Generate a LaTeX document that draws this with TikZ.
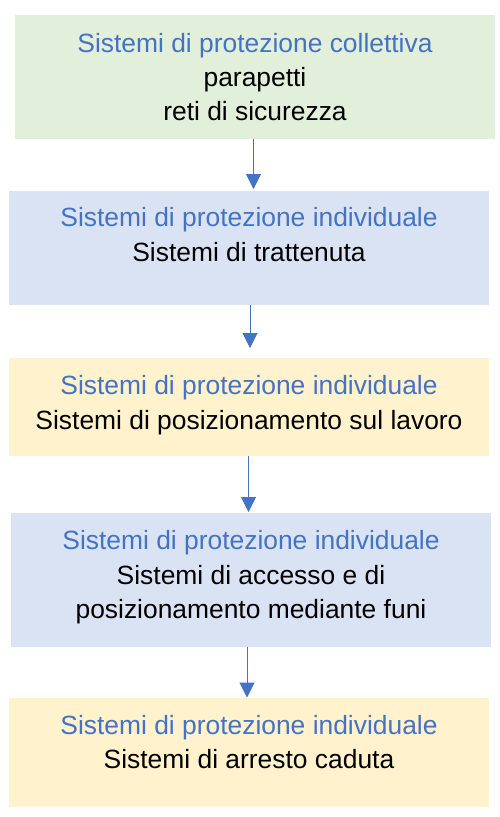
\documentclass[tikz,border=0pt]{standalone}
\usepackage{fontspec}
\setmainfont{Liberation Sans}
\usetikzlibrary{arrows.meta}
\definecolor{tblue}{HTML}{4472C4}
\definecolor{fgreen}{HTML}{E2EFDA}
\definecolor{fblue}{HTML}{DAE3F3}
\definecolor{fyellow}{HTML}{FFF2CC}
\begin{document}
\begin{tikzpicture}[x=1pt,y=-1pt,
  box/.style={draw=none, inner sep=0pt, outer sep=0pt, anchor=north west, minimum width=480pt},
  ttl/.style={anchor=base, inner sep=0pt, text=tblue, font=\fontsize{26.4}{34}\selectfont},
  txt/.style={anchor=base, inner sep=0pt, text=black, font=\fontsize{26.4}{34}\selectfont},
  arr/.style={draw=tblue, line width=1pt, -{Triangle[length=15pt,width=15pt]}}]
\path[use as bounding box, fill=white] (0,0) rectangle (499,817);
% boxes
\node[box, fill=fgreen, minimum height=124pt] (b1) at (15,15) {};
\node[box, fill=fblue, minimum height=114pt] (b2) at (9,191) {};
\node[box, fill=fyellow, minimum height=98pt] (b3) at (9,358) {};
\node[box, fill=fblue, minimum height=134pt] (b4) at (11,513) {};
\node[box, fill=fyellow, minimum height=109pt] (b5) at (9,698) {};
% texts
\node[ttl] (t1a) at (255,52) {Sistemi di protezione collettiva};
\node[txt] (t1b) at (255,86) {parapetti};
\node[txt] (t1c) at (255,120.5) {reti di sicurezza};
\node[ttl] (t2a) at (249,226.7) {Sistemi di protezione individuale};
\node[txt] (t2b) at (249,261.7) {Sistemi di trattenuta};
\node[ttl] (t3a) at (249,394) {Sistemi di protezione individuale};
\node[txt] (t3b) at (249,429) {Sistemi di posizionamento sul lavoro};
\node[ttl] (t4a) at (251,549.3) {Sistemi di protezione individuale};
\node[txt] (t4b) at (251,584) {Sistemi di accesso e di};
\node[txt] (t4c) at (251,618.3) {posizionamento mediante funi};
\node[ttl] (t5a) at (249,734) {Sistemi di protezione individuale};
\node[txt] (t5b) at (249,768) {Sistemi di arresto caduta};
% arrows
\draw[arr, shorten >=2pt] ([xshift=-1.5pt]b1.south) -- ([xshift=4.5pt]b2.north);
\draw[arr, shorten >=10pt] ([xshift=1pt]b2.south) -- ([xshift=1pt]b3.north);
\draw[arr, shorten >=1pt] ([xshift=-0.5pt]b3.south) -- ([xshift=-2.5pt]b4.north);
\draw[arr, shorten >=0.5pt] ([xshift=-4pt]b4.south) -- ([xshift=-2pt]b5.north);
\end{tikzpicture}
\end{document}
